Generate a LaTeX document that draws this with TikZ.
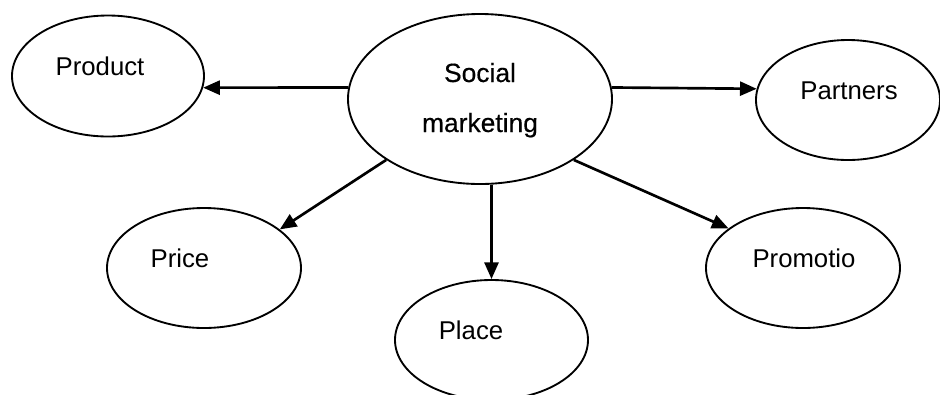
\documentclass[tikz,border=0pt]{standalone}
\usepackage{fontspec}
\setmainfont{Liberation Sans}
\newfontfamily\heavyfont[FakeBold=0.4]{Liberation Sans}
\usetikzlibrary{shapes.geometric,arrows.meta}
\tikzset{
  oval/.style={draw=black, line width=1.4pt, ellipse, inner sep=0pt},
  lbl/.style={anchor=base, inner sep=0pt, font=\fontsize{19.3}{22}\selectfont},
  mainlbl/.style={anchor=base, inner sep=0pt, font=\heavyfont\fontsize{19.8}{22}\selectfont},
  link/.style={line width=2pt, -{Triangle[length=12.5pt,width=10.5pt]}}
}
\begin{document}
\begin{tikzpicture}[x=0.75pt,y=-0.75pt]
\useasboundingbox (0,0) rectangle (940,394);
% ellipses
\node[oval, minimum width=0.75*264pt, minimum height=0.75*170pt] (soc) at (480,99) {};
\node[oval, minimum width=0.75*192pt, minimum height=0.75*121pt] (prod) at (108,76) {};
\node[oval, minimum width=0.75*184pt, minimum height=0.75*120pt] (part) at (848,100) {};
\node[oval, minimum width=0.75*194pt, minimum height=0.75*120pt] (price) at (204,268) {};
\node[oval, minimum width=0.75*193pt, minimum height=0.75*120pt] (plc) at (491.5,340) {};
\node[oval, minimum width=0.75*194pt, minimum height=0.75*120pt] (prom) at (803,268) {};
% texts
\node[mainlbl] (t1) at (480,82) {Social};
\node[mainlbl] (t2) at (480,132) {marketing};
\node[lbl] (tprod) at (100,75) {Product};
\node[lbl] (tpart) at (849,99) {Partners};
\node[lbl] (tprice) at (180,267) {Price};
\node[lbl] (tplc) at (471,339) {Place};
\node[lbl] (tprom) at (804,267) {Promotio};
% connectors
\draw[link] (soc.175) -- (prod.-7);
\draw[link] (soc.5) -- (part.173);
\draw[link] (soc.213.3) -- (price.27.5);
\draw[link] (soc.south -| plc.north) -- (plc.north);
\draw[link] (soc.-33.3) -- (prom.152.5);
\end{tikzpicture}
\end{document}
